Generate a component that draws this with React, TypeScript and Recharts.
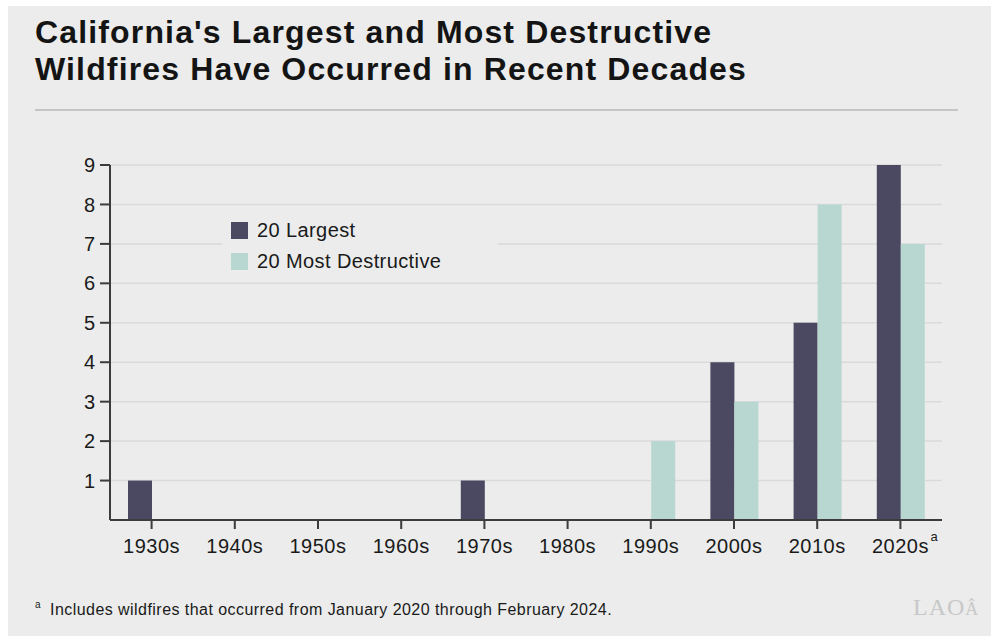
import { BarChart, Bar, XAxis, YAxis, CartesianGrid } from "recharts"

const BG = "#ebeceb"
const DARK = "#4a4961"
const LIGHT = "#b9d7d1"

const decades = ["1930s", "1940s", "1950s", "1960s", "1970s", "1980s", "1990s", "2000s", "2010s", "2020s"]
const largest = [1, 0, 0, 0, 1, 0, 0, 4, 5, 9]
const destructive = [0, 0, 0, 0, 0, 0, 2, 3, 8, 7]
const yTicks = [1, 2, 3, 4, 5, 6, 7, 8, 9]

const data = decades.map((d, i) => ({ decade: d, largest: largest[i], destructive: destructive[i] }))

const font = "'Liberation Sans', Arial, sans-serif"

function DecadeTick(props: any) {
  const { x, y, payload } = props
  const label = payload.value as string
  return (
    <g>
      <text x={x} y={y + 22} textAnchor="middle" fontSize={20} letterSpacing={0.5} fill="#1a1a1a" fontFamily={font}>
        {label}
      </text>
      {label === "2020s" && (
        <text x={x + 30} y={y + 10} textAnchor="start" fontSize={13} fill="#1a1a1a" fontFamily={font}>a</text>
      )}
    </g>
  )
}

function LegendBox() {
  const items = [
    { name: "20 Largest", color: DARK },
    { name: "20 Most Destructive", color: LIGHT },
  ]
  return (
    <div style={{ position: "absolute", left: 214, top: 206, background: BG, width: 276, height: 64, paddingTop: 10, paddingLeft: 9, boxSizing: "border-box" }}>
      {items.map((it) => (
        <div key={it.name} style={{ display: "flex", alignItems: "center", height: 31 }}>
          <span style={{ width: 17, height: 17, background: it.color, display: "inline-block", marginRight: 9, marginTop: -14 }} />
          <span style={{ fontSize: 20, letterSpacing: 0.4, color: "#1a1a1a", fontFamily: font, marginTop: -14 }}>{it.name}</span>
        </div>
      ))}
    </div>
  )
}

export default function App() {
  return (
    <div style={{ position: "absolute", left: 8, top: 6, width: 983, height: 630, background: BG, fontFamily: font, overflow: "hidden" }}>
      <div style={{ position: "absolute", left: 27, top: 8, fontSize: 32, lineHeight: "37px", fontWeight: 700, letterSpacing: 1.15, color: "#141414" }}>
        <div>California's Largest and Most Destructive</div>
        <div>Wildfires Have Occurred in Recent Decades</div>
      </div>
      <div style={{ position: "absolute", left: 27, top: 103, width: 923, height: 2, background: "#c4c5c4" }} />

      <div style={{ position: "absolute", left: 0, top: 0 }}>
        <BarChart
          width={983}
          height={630}
          data={data}
          margin={{ top: 159, right: 49, bottom: 76, left: 0 }}
          barGap={0}
          barSize={24}
        >
          <CartesianGrid horizontal vertical={false} stroke="#d9dad9" strokeWidth={1.5} />
          <YAxis
            width={102}
            domain={[0, 9]}
            ticks={yTicks}
            interval={0}
            tickSize={10}
            tickMargin={5}
            axisLine={{ stroke: "#3c3c3c", strokeWidth: 2 }}
            tickLine={{ stroke: "#3c3c3c", strokeWidth: 2 }}
            tick={{ fill: "#1a1a1a", fontSize: 20, fontFamily: font }}
          />
          <XAxis
            dataKey="decade"
            height={40}
            interval={0}
            tickSize={9}
            axisLine={{ stroke: "#3c3c3c", strokeWidth: 2 }}
            tickLine={{ stroke: "#3c3c3c", strokeWidth: 2 }}
            tick={<DecadeTick />}
          />
          <Bar dataKey="largest" name="20 Largest" fill={DARK} isAnimationActive={false} />
          <Bar dataKey="destructive" name="20 Most Destructive" fill={LIGHT} isAnimationActive={false} />
        </BarChart>
      </div>

      <LegendBox />

      <div style={{ position: "absolute", left: 27, top: 591, fontSize: 16, lineHeight: "18px", color: "#1a1a1a", letterSpacing: 0.45, whiteSpace: "nowrap" }}>
        <sup style={{ fontSize: 10, marginRight: 9, position: "relative", top: -1 }}>a</sup>
        Includes wildfires that occurred from January 2020 through February 2024.
      </div>
      <div style={{ position: "absolute", left: 905, top: 588, fontSize: 24, fontFamily: "'Liberation Serif', serif", color: "#c8c8c8", letterSpacing: 1 }}>
        LAO<span style={{ fontSize: 18 }}>Â</span>
      </div>
    </div>
  )
}
